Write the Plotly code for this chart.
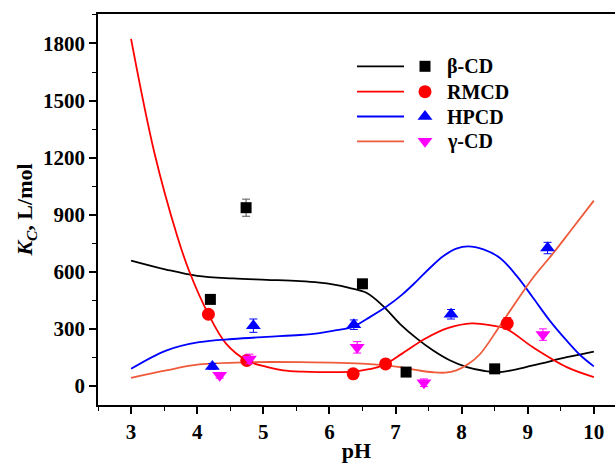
import plotly.graph_objects as go

# ---- measured data points ----
beta_ph = [4.20, 4.74, 6.50, 7.16, 8.50]
beta_k = [455, 937, 537, 73, 90]
beta_err = [20, 45, 20, 15, 15]

rmcd_ph = [4.17, 4.75, 6.36, 6.85, 8.69]
rmcd_k = [377, 134, 64, 116, 329]
rmcd_err = [15, 15, 10, 10, 30]

hpcd_ph = [4.23, 4.85, 6.37, 7.84, 9.30]
hpcd_k = [103, 317, 322, 377, 725]
hpcd_err = [15, 35, 25, 25, 30]

gcd_ph = [4.34, 4.79, 6.42, 7.43, 9.23]
gcd_k = [56, 142, 203, 17, 270]
gcd_err = [15, 25, 30, 20, 30]

# ---- fitted curves ----
beta_fit_ph = [3.0, 3.53, 4.0, 4.54, 5.05, 5.55, 5.85, 6.05, 6.30, 6.56, 6.81, 7.07, 7.32, 7.57, 7.82, 8.08, 8.33, 8.58, 9.08, 9.59, 10.0]
beta_fit_k = [659, 612, 579, 565, 558, 551, 543, 534, 516, 490, 421, 325, 250, 186, 135, 99, 80, 73, 108, 151, 181]

rmcd_fit_ph = [3.0, 3.35, 3.70, 3.88, 4.17, 4.44, 4.75, 5.05, 5.30, 5.60, 5.85, 6.10, 6.36, 6.60, 6.81, 7.10, 7.44, 7.80, 8.15, 8.45, 8.68, 9.08, 9.59, 10.0]
rmcd_fit_k = [1824, 1230, 786, 603, 377, 221, 134, 100, 82, 75, 73, 73, 75, 88, 108, 170, 247, 305, 329, 318, 299, 203, 99, 47]

hpcd_fit_ph = [3.0, 3.53, 4.03, 4.54, 5.05, 5.55, 5.85, 6.05, 6.36, 6.56, 6.86, 7.10, 7.32, 7.52, 7.72, 7.92, 8.10, 8.33, 8.58, 8.83, 9.08, 9.33, 9.59, 9.80, 10.0]
hpcd_fit_k = [90, 186, 230, 247, 258, 268, 278, 290, 311, 351, 416, 480, 551, 620, 682, 722, 734, 718, 673, 580, 464, 345, 238, 160, 103]

gcd_fit_ph = [3.0, 3.53, 4.03, 4.79, 5.55, 6.56, 7.07, 7.35, 7.57, 7.75, 7.92, 8.10, 8.28, 8.58, 8.83, 9.08, 9.39, 9.64, 10.0]
gcd_fit_k = [43, 82, 113, 125, 125, 116, 99, 82, 72, 70, 82, 115, 168, 317, 445, 569, 700, 812, 974]

x_ticks = [3, 4, 5, 6, 7, 8, 9, 10]
y_ticks = [0, 300, 600, 900, 1200, 1500, 1800]

legend_names = ["β-CD", "RMCD", "HPCD", "γ-CD"]
line_colors = ["#000000", "#FF0000", "#0000FF", "#EE5A3A"]
marker_colors = ["#000000", "#FF0000", "#0000FF", "#FF00FF"]
marker_symbols = ["square", "circle", "triangle-up", "triangle-down"]
marker_sizes = [11, 13, 13, 13]

FONT = "Liberation Serif"

fig = go.Figure()

fits = [(beta_fit_ph, beta_fit_k), (rmcd_fit_ph, rmcd_fit_k),
        (hpcd_fit_ph, hpcd_fit_k), (gcd_fit_ph, gcd_fit_k)]
pts = [(beta_ph, beta_k, beta_err), (rmcd_ph, rmcd_k, rmcd_err),
       (hpcd_ph, hpcd_k, hpcd_err), (gcd_ph, gcd_k, gcd_err)]

for i, (fx, fy) in enumerate(fits):
    fig.add_trace(go.Scatter(x=fx, y=fy, mode="lines",
                             line=dict(color=line_colors[i], width=1.8, shape="spline", smoothing=1.0),
                             showlegend=False, hoverinfo="skip"))

for i, (px, py, pe) in enumerate(pts):
    fig.add_trace(go.Scatter(x=px, y=py, mode="markers",
                             marker=dict(symbol=marker_symbols[i], size=marker_sizes[i],
                                         color=marker_colors[i], line=dict(width=0)),
                             error_y=dict(type="data", array=pe, color=marker_colors[i] if i else "#555555",
                                          thickness=1, width=4),
                             showlegend=False))

# ---- custom legend on an overlay axis (pixel-like units) ----
leg_y = [66.7, 92.3, 117.3, 142.3]
for i, name in enumerate(legend_names):
    fig.add_trace(go.Scatter(x=[357, 404], y=[leg_y[i], leg_y[i]], mode="lines",
                             line=dict(color=line_colors[i], width=1.8),
                             xaxis="x2", yaxis="y2", showlegend=False, hoverinfo="skip"))
    fig.add_trace(go.Scatter(x=[425], y=[leg_y[i]], mode="markers",
                             marker=dict(symbol=marker_symbols[i], size=marker_sizes[i],
                                         color=marker_colors[i], line=dict(width=0)),
                             xaxis="x2", yaxis="y2", showlegend=False, hoverinfo="skip"))
    fig.add_annotation(x=445, y=leg_y[i], xref="x2", yref="y2", text="<b>%s</b>" % name,
                       showarrow=False, xanchor="left", yanchor="middle",
                       font=dict(family=FONT, size=20, color="#000000"))

tick_font = dict(family=FONT, size=21, color="#000000")
title_font = dict(family=FONT, size=22, color="#000000")

fig.update_layout(
    width=615, height=463,
    margin=dict(l=98, r=0, t=14, b=55),
    paper_bgcolor="white", plot_bgcolor="white",
    showlegend=False,
    xaxis=dict(range=[2.5, 10.32], tickvals=x_ticks, ticktext=["<b>%d</b>" % v for v in x_ticks],
               showline=True, linecolor="#000000", linewidth=1.5, mirror=True,
               ticks="outside", ticklen=7, tickwidth=1.5, tickcolor="#000000",
               minor=dict(dtick=0.5, ticks="outside", ticklen=4, tickwidth=1.2, tickcolor="#000000"),
               showgrid=False, zeroline=False, tickfont=tick_font,
               title=dict(text="<b>pH</b>", font=title_font, standoff=4)),
    yaxis=dict(range=[-100, 1955], tickvals=y_ticks, ticktext=["<b>%d</b>" % v for v in y_ticks],
               showline=True, linecolor="#000000", linewidth=1.5, mirror=False,
               ticks="outside", ticklen=7, tickwidth=1.5, tickcolor="#000000",
               minor=dict(dtick=150, ticks="outside", ticklen=4, tickwidth=1.2, tickcolor="#000000"),
               showgrid=False, zeroline=False, tickfont=tick_font,
               title=dict(text="<b><i>K</i><sub><i>C</i></sub>, L/mol</b>", font=title_font, standoff=4)),
    xaxis2=dict(range=[98, 615], overlaying="x", visible=False, fixedrange=True),
    yaxis2=dict(range=[408, 14], overlaying="y", visible=False, fixedrange=True),
)

fig.write_html("out.html", config={"displayModeBar": False},
               post_script="document.body.style.margin='0';document.body.style.overflow='hidden';")
